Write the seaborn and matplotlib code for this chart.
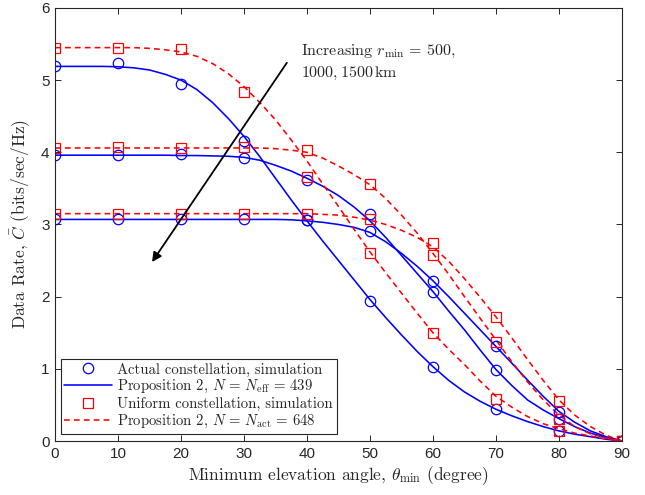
import numpy as np
import pandas as pd
import seaborn as sns
import matplotlib.pyplot as plt
from matplotlib.lines import Line2D

# simulation points (every 10 degrees)
theta_sim = [0, 10, 20, 30, 40, 50, 60, 70, 80, 90]
act_500 = [5.19, 5.24, 4.94, 4.15, 3.06, 1.94, 1.03, 0.44, 0.14, 0.0]
act_1000 = [3.965, 3.96, 3.97, 3.915, 3.62, 3.14, 2.07, 0.99, 0.305, 0.0]
act_1500 = [3.07, 3.07, 3.08, 3.08, 3.06, 2.91, 2.216, 1.31, 0.40, 0.0]
uni_500 = [5.45, 5.45, 5.43, 4.83, 3.66, 2.61, 1.50, 0.58, 0.14, 0.0]
uni_1000 = [4.06, 4.07, 4.06, 4.07, 4.03, 3.56, 2.58, 1.375, 0.305, 0.0]
uni_1500 = [3.15, 3.15, 3.15, 3.14, 3.15, 3.07, 2.75, 1.72, 0.56, 0.0]

# Proposition 2 curves (read every 2.5 degrees)
theta_th = [0, 2.5, 5, 7.5, 10, 12.5, 15, 17.5, 20, 22.5, 25, 27.5, 30, 32.5, 35,
            37.5, 40, 42.5, 45, 47.5, 50, 52.5, 55, 57.5, 60, 62.5, 65, 67.5,
            70, 72.5, 75, 77.5, 80, 82.5, 85, 87.5, 90]
eff_500 = [5.19, 5.19, 5.19, 5.19, 5.185, 5.17, 5.14, 5.08, 5.00, 4.87, 4.69, 4.47,
           4.22, 3.94, 3.64, 3.34, 3.05, 2.77, 2.50, 2.23, 1.96, 1.71, 1.47, 1.24,
           1.03, 0.84, 0.68, 0.55, 0.44, 0.35, 0.27, 0.20, 0.14, 0.095, 0.06, 0.025, 0.0]
eff_1000 = [3.96, 3.96, 3.96, 3.96, 3.96, 3.96, 3.96, 3.96, 3.955, 3.955, 3.95, 3.945,
            3.93, 3.89, 3.82, 3.74, 3.64, 3.53, 3.40, 3.24, 3.05, 2.82, 2.57, 2.32,
            2.07, 1.80, 1.54, 1.26, 0.99, 0.77, 0.57, 0.43, 0.31, 0.20, 0.11, 0.05, 0.0]
eff_1500 = [3.07, 3.07, 3.07, 3.07, 3.07, 3.07, 3.07, 3.07, 3.07, 3.07, 3.07, 3.07,
            3.07, 3.07, 3.07, 3.065, 3.05, 3.03, 3.00, 2.96, 2.89, 2.76, 2.60, 2.42,
            2.22, 2.00, 1.77, 1.54, 1.31, 1.08, 0.845, 0.62, 0.41, 0.26, 0.14, 0.06, 0.0]
act_th_500 = [5.45, 5.45, 5.45, 5.45, 5.45, 5.45, 5.44, 5.42, 5.39, 5.33, 5.23, 5.09,
              4.91, 4.69, 4.45, 4.17, 3.88, 3.56, 3.25, 2.93, 2.62, 2.33, 2.05, 1.77,
              1.50, 1.27, 1.06, 0.83, 0.62, 0.47, 0.34, 0.24, 0.17, 0.11, 0.07, 0.03, 0.0]
act_th_1000 = [4.06, 4.06, 4.06, 4.06, 4.06, 4.06, 4.06, 4.06, 4.06, 4.06, 4.06, 4.06,
               4.06, 4.06, 4.05, 4.03, 4.00, 3.92, 3.81, 3.69, 3.55, 3.36, 3.13, 2.88,
               2.60, 2.31, 2.00, 1.70, 1.40, 1.10, 0.82, 0.57, 0.36, 0.20, 0.10, 0.04, 0.0]
act_th_1500 = [3.15, 3.15, 3.15, 3.15, 3.15, 3.15, 3.15, 3.15, 3.15, 3.15, 3.15, 3.15,
               3.15, 3.15, 3.15, 3.15, 3.15, 3.14, 3.13, 3.10, 3.06, 3.00, 2.92, 2.82,
               2.69, 2.49, 2.25, 1.99, 1.72, 1.43, 1.13, 0.84, 0.57, 0.36, 0.20, 0.08, 0.0]

blue = (0, 0, 1)
red = (1, 0, 0)
axc = (0.15, 0.15, 0.15)
dash = (0, (3.6, 2.6))

sns.set_style("ticks")
plt.rcParams['mathtext.fontset'] = 'cm'
plt.rcParams['font.family'] = ['Liberation Sans', 'DejaVu Sans']
serif = 'cmr10'

fig = plt.figure(figsize=(6.45, 4.95), dpi=100)
ax = fig.add_axes([0.0853, 0.109, 0.879, 0.875])

for vals in [eff_500, eff_1000, eff_1500]:
    sns.lineplot(x=theta_th, y=vals, ax=ax, color=blue, linewidth=1.15)
for vals in [act_th_500, act_th_1000, act_th_1500]:
    sns.lineplot(x=theta_th, y=vals, ax=ax, color=red, linewidth=1.15,
                 linestyle=dash)

for vals in [act_500, act_1000, act_1500]:
    sns.lineplot(x=theta_sim, y=vals, ax=ax, color=blue, linestyle='none',
                 marker='o', markersize=7.5, markerfacecolor='none',
                 markeredgecolor=blue, markeredgewidth=0.9)
for vals in [uni_500, uni_1000, uni_1500]:
    sns.lineplot(x=theta_sim, y=vals, ax=ax, color=red, linestyle='none',
                 marker='s', markersize=7, markerfacecolor='none',
                 markeredgecolor=red, markeredgewidth=0.9)

ax.set_xlim(0, 90)
ax.set_ylim(0, 6)
ax.set_xticks(range(0, 91, 10))
ax.set_yticks(range(0, 7))
ax.tick_params(direction='in', top=True, right=True, length=4, width=0.7,
               colors=axc, labelsize=11, pad=4)
for sp in ax.spines.values():
    sp.set_visible(True)
    sp.set_color(axc)
    sp.set_linewidth(0.8)

ax.set_xlabel(r'Minimum elevation angle, $\theta_{\min}$ (degree)',
              fontfamily=serif, fontsize=12.5, labelpad=3)
ax.set_ylabel(r'Data Rate, $\bar{C}$ (bits/sec/Hz)',
              fontfamily=serif, fontsize=12.5, labelpad=6)

ax.annotate('', xy=(15.4, 2.48), xytext=(36.8, 5.24),
            arrowprops=dict(arrowstyle='-|>', color='black', lw=1.3,
                            mutation_scale=14, shrinkA=0, shrinkB=0))
ax.text(39.0, 5.52, 'Increasing $r_{\\min} \\,=\\, 500$,\n$1000, 1500\\,$km',
        fontfamily=serif, fontsize=11.5, va='top', ha='left', linespacing=1.4)

handles = [
    Line2D([], [], linestyle='none', marker='o', markersize=7.5,
           markerfacecolor='none', markeredgecolor=blue, markeredgewidth=0.9),
    Line2D([], [], color=blue, linewidth=1.15),
    Line2D([], [], linestyle='none', marker='s', markersize=7,
           markerfacecolor='none', markeredgecolor=red, markeredgewidth=0.9),
    Line2D([], [], color=red, linewidth=1.15, linestyle=dash),
]
labels = [
    'Actual constellation, simulation',
    r'Proposition 2, $N \,=\, N_{\mathrm{eff}} \,=\, 439$',
    'Uniform constellation, simulation',
    r'Proposition 2, $N \,=\, N_{\mathrm{act}} \,=\, 648$',
]
leg = ax.legend(handles, labels, loc='lower left', bbox_to_anchor=(0.005, 0.01),
                prop={'family': serif, 'size': 10.6}, frameon=True, fancybox=False,
                framealpha=1, edgecolor=axc, borderpad=0.25, labelspacing=0.12,
                handlelength=3.2, handletextpad=0.4, borderaxespad=0.2)
leg.get_frame().set_linewidth(0.8)

fig.savefig('out.png', dpi=100)
